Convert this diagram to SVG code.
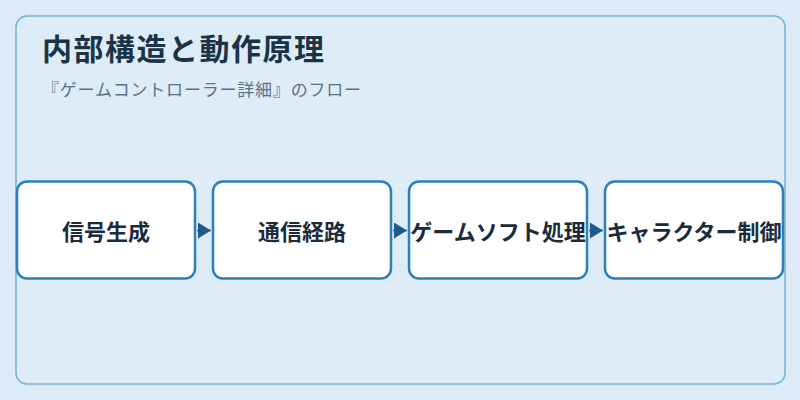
<svg xmlns="http://www.w3.org/2000/svg" width="800" height="400" viewBox="0 0 800 400">
<style>
.node rect{fill:#ffffff;stroke:#2e80b9;stroke-width:2.5}
.node text{font-family:"Noto Sans CJK JP","Noto Sans",sans-serif;font-size:22px;font-weight:bold;fill:#1b2b3c;text-anchor:middle}
.conn{stroke:#1f5a8a;stroke-width:1.5;fill:none}
</style>
<defs>
<marker id="arr" viewBox="0 0 13 16" refX="13" refY="8" markerWidth="13" markerHeight="16" markerUnits="userSpaceOnUse" orient="auto">
<path d="M0,0 L13,8 L0,16 Z" fill="#1f5a8a"/>
</marker>
</defs>
<rect width="800" height="400" fill="#dcebf7"/>
<rect x="16" y="16" width="769" height="368" rx="11" fill="#ddecf7" stroke="#7ab3d6" stroke-width="1.6"/>
<text x="42" y="59.5" font-family="'Noto Sans CJK JP','Noto Sans',sans-serif" font-size="30" font-weight="bold" letter-spacing="1.5" fill="#1b3347">内部構造と動作原理</text>
<text x="42" y="96" font-family="'Noto Sans CJK JP','Noto Sans',sans-serif" font-size="17" letter-spacing="0.8" fill="#5a7286">『ゲームコントローラー詳細』のフロー</text>
<g id="connectors">
<line class="conn" x1="197" y1="230.5" x2="211" y2="230.5" marker-end="url(#arr)"/>
<line class="conn" x1="393" y1="230.5" x2="407" y2="230.5" marker-end="url(#arr)"/>
<line class="conn" x1="589" y1="230.5" x2="603" y2="230.5" marker-end="url(#arr)"/>
</g>
<g id="node1" class="node"><rect x="17" y="181.5" width="178" height="97" rx="10"/><text x="106" y="240">信号生成</text></g>
<g id="node2" class="node"><rect x="213" y="181.5" width="178" height="97" rx="10"/><text x="302" y="240">通信経路</text></g>
<g id="node3" class="node"><rect x="409" y="181.5" width="178" height="97" rx="10"/><text x="498" y="240">ゲームソフト処理</text></g>
<g id="node4" class="node"><rect x="605" y="181.5" width="178" height="97" rx="10"/><text x="694" y="240">キャラクター制御</text></g>
</svg>
